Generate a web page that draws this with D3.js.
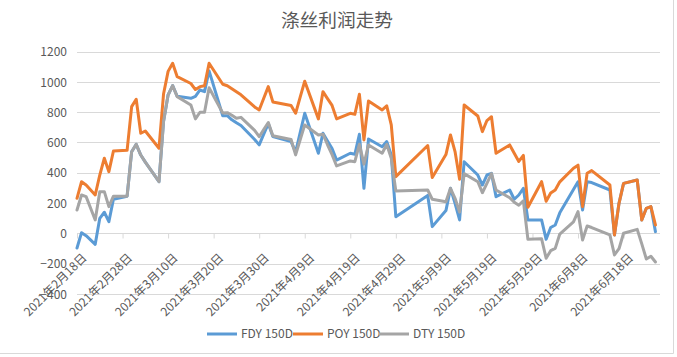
<!DOCTYPE html>
<html><head><meta charset="utf-8">
<script src="https://cdn.jsdelivr.net/npm/d3@7"></script>
<style>
body{margin:0;background:#fff}
svg{display:block}
text{font-family:"Noto Sans CJK SC","Noto Sans",sans-serif}
</style>
</head><body>
<svg id="c" width="677" height="357"></svg>
<script>
const title = "涤丝利润走势";
const seriesNames = ["FDY 150D", "POY 150D", "DTY 150D"];
const dates = [
"2021-02-18","2021-02-19","2021-02-20","2021-02-22","2021-02-23","2021-02-24","2021-02-25","2021-02-26",
"2021-03-01","2021-03-02","2021-03-03","2021-03-04","2021-03-05",
"2021-03-08","2021-03-09","2021-03-10","2021-03-11","2021-03-12",
"2021-03-15","2021-03-16","2021-03-17","2021-03-18","2021-03-19",
"2021-03-22","2021-03-23","2021-03-24","2021-03-25","2021-03-26",
"2021-03-29","2021-03-30","2021-03-31","2021-04-01","2021-04-02",
"2021-04-06","2021-04-07","2021-04-08","2021-04-09",
"2021-04-12","2021-04-13","2021-04-14","2021-04-15","2021-04-16",
"2021-04-19","2021-04-20","2021-04-21","2021-04-22","2021-04-23",
"2021-04-26","2021-04-27","2021-04-28","2021-04-29",
"2021-05-06","2021-05-07",
"2021-05-10","2021-05-11","2021-05-12","2021-05-13","2021-05-14",
"2021-05-17","2021-05-18","2021-05-19","2021-05-20","2021-05-21",
"2021-05-24","2021-05-25","2021-05-26","2021-05-27","2021-05-28",
"2021-05-31","2021-06-01","2021-06-02","2021-06-03","2021-06-04",
"2021-06-07","2021-06-08","2021-06-09","2021-06-10","2021-06-11",
"2021-06-15","2021-06-16","2021-06-17","2021-06-18",
"2021-06-21","2021-06-22","2021-06-23","2021-06-24","2021-06-25"
];
const fdy = [
-97, 4, -16, -73, 99, 139, 77, 225,
245, 539, 588, 517, 470,
341, 738, 914, 976, 905,
892, 905, 947, 936, 1073,
777, 777, 750, 730, 712,
620, 584, 655, 725, 639,
606, 536, 666, 793,
529, 661, 610, 560, 484,
529, 522, 654, 297, 623,
572, 606, 518, 110,
250, 44,
150, 297, 198, 88, 473,
385, 319, 385, 396, 242,
286, 225, 253, 297, 88,
88, -40, 38, 55, 135,
290, 340, 154, 340, 335,
286, -11, 198, 330,
352, 88, 165, 176, 11
];
const poy = [
231, 341, 319, 253, 385, 496, 407, 544,
548, 837, 886, 661, 676,
562, 920, 1070, 1124, 1035,
990, 950, 969, 975, 1124,
985, 975, 955, 935, 915,
835, 815, 892, 969, 868,
844, 793, 900, 1005,
756, 936, 890, 845, 756,
793, 786, 919, 617, 874,
815, 842, 716, 374,
580, 368,
520, 650, 540, 357, 848,
775, 672, 745, 770, 529,
584, 529, 475, 515, 172,
341, 212, 266, 286, 340,
430, 450, 176, 397, 414,
319, -11, 198, 330,
352, 88, 165, 176, 55
];
const dty = [
154, 253, 242, 88, 275, 275, 176, 245,
245, 539, 588, 517, 470,
341, 738, 914, 976, 903,
848, 756, 800, 800, 962,
795, 797, 780, 760, 766,
680, 638, 686, 732, 645,
620, 518, 617, 716,
650, 655, 585, 520, 445,
478, 473, 588, 457, 584,
529, 587, 496, 280,
286, 225,
209, 297, 231, 140, 394,
341, 268, 330, 394, 286,
235, 205, 185, 215, -40,
-36, -165, -115, -100, -5,
75, 143, -44, 48, 38,
-11, -143, -102, 0,
26, -70, -170, -152, -190
];
const yTicks = [-400, -200, 0, 200, 400, 600, 800, 1000, 1200];
const xTicks = ["2021-02-18","2021-02-28","2021-03-10","2021-03-20","2021-03-30","2021-04-09",
"2021-04-19","2021-04-29","2021-05-09","2021-05-19","2021-05-29","2021-06-08","2021-06-18"];
const colors = ["#5B9BD5", "#ED7D31", "#A5A5A5"];

const parse = d3.timeParse("%Y-%m-%d");
const svg = d3.select("#c");
const W = 677, H = 357;
const mLeft = 77, mRight = 660, mTop = 51.7, mBottom = 293.8;

svg.append("rect").attr("width", W).attr("height", H).attr("fill", "#fff");
svg.append("path").attr("d", `M673.5,0V353.5H0`).attr("fill", "none").attr("stroke", "#d9d9d9").attr("stroke-width", 1);

const x = d3.scaleTime().domain([parse("2021-02-18"), parse("2021-06-26")]).range([mLeft, mRight]);
const y = d3.scaleLinear().domain([-400, 1200]).range([mBottom, mTop]);

// gridlines
svg.append("g").selectAll("line").data(yTicks).join("line")
  .attr("x1", mLeft).attr("x2", mRight)
  .attr("y1", d => Math.round(y(d)) + 0.5).attr("y2", d => Math.round(y(d)) + 0.5)
  .attr("stroke", "#d9d9d9").attr("stroke-width", 1);

// y labels
const yAxis = d3.axisLeft(y).tickValues(yTicks).tickSize(0).tickPadding(0).tickFormat(d3.format("d"));
const gy = svg.append("g").attr("transform", `translate(${mLeft - 10},0)`).call(yAxis);
gy.select(".domain").remove();
gy.selectAll("text").attr("fill", "#595959").attr("font-size", 12).attr("dy", "0.35em");

// x axis at zero
const xAxis = d3.axisBottom(x).tickValues(xTicks.map(parse)).tickSize(5)
  .tickFormat(d => `${d.getFullYear()}年${d.getMonth() + 1}月${d.getDate()}日`);
const gx = svg.append("g").attr("transform", `translate(0,${Math.round(y(0)) + 0.5})`).call(xAxis);
gx.select(".domain").attr("stroke", "#d9d9d9").attr("d", `M${mLeft},0H${mRight}`);
gx.selectAll(".tick line").attr("stroke", "#d9d9d9");
gx.selectAll(".tick text")
  .attr("fill", "#595959").attr("font-size", 12)
  .attr("text-anchor", "end").attr("dy", null).attr("y", null)
  .attr("transform", "translate(10,25) rotate(-45)");

// lines
const series = [fdy, poy, dty];
const line = d3.line().x(d => x(d[0])).y(d => y(d[1]));
series.forEach((vals, i) => {
  const pts = dates.map((d, j) => [parse(d), vals[j]]);
  svg.append("path").datum(pts).attr("d", line)
    .attr("fill", "none").attr("stroke", colors[i]).attr("stroke-width", 3)
    .attr("stroke-linejoin", "round").attr("stroke-linecap", "round");
});

// title
svg.append("text").attr("x", 337).attr("y", 27).attr("text-anchor", "middle")
  .attr("font-size", 18.7).attr("fill", "#595959").text(title);

// legend
const lg = svg.append("g");
const legendX = [207, 293, 379];
seriesNames.forEach((n, i) => {
  lg.append("line").attr("x1", legendX[i]).attr("x2", legendX[i] + 30)
    .attr("y1", 334).attr("y2", 334).attr("stroke", colors[i]).attr("stroke-width", 3);
  lg.append("text").attr("x", legendX[i] + 34).attr("y", 334).attr("dy", "0.35em")
    .attr("font-size", 12).attr("fill", "#595959").text(n);
});
</script>
</body></html>
